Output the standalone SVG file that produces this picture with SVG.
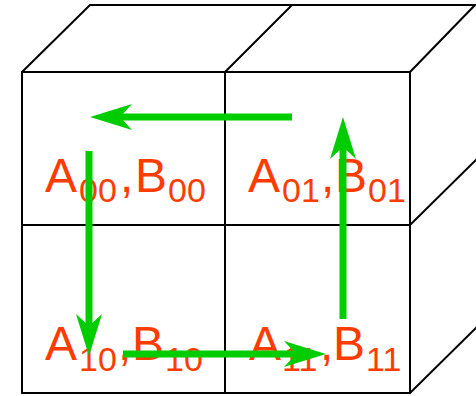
<svg xmlns="http://www.w3.org/2000/svg" width="476" height="396" viewBox="0 0 476 396">
<style>
.edge{fill:none;stroke:#000;stroke-width:2;stroke-linejoin:miter}
.cell{fill:#fff;stroke:#000;stroke-width:2}
.lbl{font-family:"Liberation Sans",Arial,sans-serif;fill:#ff3c00}
.big{font-size:48px}
.sub{font-size:34px}
.flow{fill:none;stroke:#00cc00;stroke-width:7}
</style>
<defs>
<marker id="ah" markerUnits="userSpaceOnUse" markerWidth="44" markerHeight="30" viewBox="0 -14 44 28" refX="12" refY="0" orient="auto">
<path d="M0,-13 L42,0 L0,13 L12,0 Z" fill="#00cc00"/>
</marker>
</defs>
<g id="cube-depth">
<path class="edge" d="M22,72 L90,5 L475,5 L410,72 M225,72 L292,5 M410,225 L478,158 M410,393 L478,326"/>
</g>
<g id="cell00">
<rect class="cell" x="22" y="72" width="203" height="153"/>
<text class="lbl"><tspan class="big" x="45" y="192">A</tspan><tspan class="sub" x="79" y="202">00</tspan><tspan class="big" x="120" y="192">,</tspan><tspan class="big" x="135" y="192">B</tspan><tspan class="sub" x="168" y="202">00</tspan></text>
</g>
<g id="cell01">
<rect class="cell" x="225" y="72" width="185" height="153"/>
<text class="lbl"><tspan class="big" x="248" y="192">A</tspan><tspan class="sub" x="282" y="202">01</tspan><tspan class="big" x="321" y="192">,</tspan><tspan class="big" x="335" y="192">B</tspan><tspan class="sub" x="368" y="202">01</tspan></text>
</g>
<g id="cell10">
<rect class="cell" x="22" y="225" width="203" height="168"/>
<text class="lbl"><tspan class="big" x="45" y="360">A</tspan><tspan class="sub" x="79" y="371">10</tspan><tspan class="big" x="118" y="360">,</tspan><tspan class="big" x="132" y="360">B</tspan><tspan class="sub" x="165" y="371">10</tspan></text>
</g>
<g id="cell11">
<rect class="cell" x="225" y="225" width="185" height="168"/>
<text class="lbl"><tspan class="big" x="249" y="360">A</tspan><tspan class="sub" x="282" y="371">11</tspan><tspan class="big" x="320" y="360">,</tspan><tspan class="big" x="333" y="360">B</tspan><tspan class="sub" x="366" y="371">11</tspan></text>
</g>
<g id="connectors">
<line class="flow" x1="292" y1="117" x2="120" y2="117" marker-end="url(#ah)"/>
<line class="flow" x1="89" y1="151" x2="89" y2="326" marker-end="url(#ah)"/>
<line class="flow" x1="123" y1="354" x2="296" y2="354" marker-end="url(#ah)"/>
<line class="flow" x1="343" y1="319" x2="343" y2="147" marker-end="url(#ah)"/>
</g>
</svg>
